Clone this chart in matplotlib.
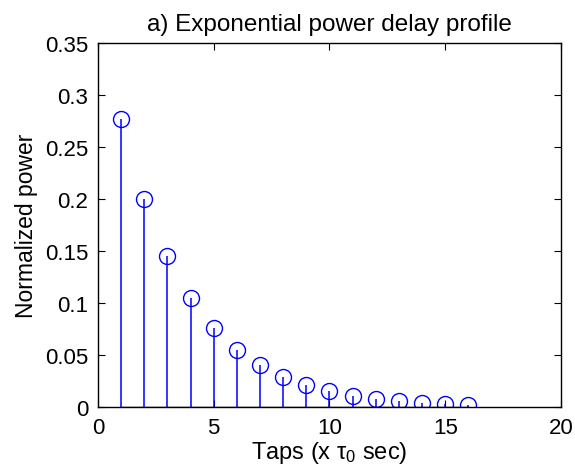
import numpy as np
import matplotlib
matplotlib.use('Agg')
import matplotlib.pyplot as plt

plt.rcParams['font.family'] = ['Liberation Sans', 'DejaVu Sans']
plt.rcParams['mathtext.fontset'] = 'custom'
plt.rcParams['mathtext.rm'] = 'Liberation Sans'
plt.rcParams['mathtext.it'] = 'Liberation Sans'

# tap index and normalized power
taps = [1, 2, 3, 4, 5, 6, 7, 8, 9, 10, 11, 12, 13, 14, 15, 16]
power = [0.277, 0.200, 0.145, 0.105, 0.076, 0.055, 0.040, 0.029,
         0.021, 0.015, 0.011, 0.0075, 0.0055, 0.0039, 0.0029, 0.002]

fig = plt.figure(figsize=(5.75, 4.77), dpi=100)
ax = fig.add_axes([0.1704, 0.1447, 0.8052, 0.7631])

markerline, stemlines, baseline = ax.stem(taps, power, linefmt='b-', markerfmt='bo', basefmt='k-')
markerline.set_markerfacecolor('none')
markerline.set_markeredgecolor('b')
markerline.set_markersize(11.5)
markerline.set_markeredgewidth(1.0)
stemlines.set_linewidth(1.1)
baseline.set_linewidth(1.0)

ax.set_xlim(0, 20)
ax.set_ylim(0, 0.35)
ax.set_xticks([0, 5, 10, 15, 20])
ax.set_yticks(np.arange(0, 0.351, 0.05))
ax.set_yticklabels(['0', '0.05', '0.1', '0.15', '0.2', '0.25', '0.3', '0.35'])
ax.tick_params(direction='in', length=5, labelsize=16, top=True, right=True, width=0.8)
ax.tick_params(axis='x', pad=7)
ax.tick_params(axis='y', pad=7)
for s in ax.spines.values():
    s.set_linewidth(1.0)

ax.set_title('a) Exponential power delay profile', fontsize=17.5, pad=9)
ax.set_xlabel(r'Taps (x $\tau_0$ sec)', fontsize=17, labelpad=1)
ax.set_ylabel('Normalized power', fontsize=16.5, labelpad=5)

fig.savefig('out.png', dpi=100)
